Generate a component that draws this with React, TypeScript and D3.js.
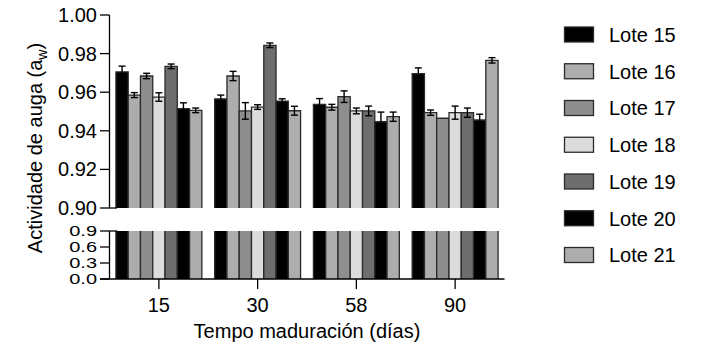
import React from "react";
import * as d3 from "d3";

const days = ["15", "30", "58", "90"];
const lotes = ["Lote 15", "Lote 16", "Lote 17", "Lote 18", "Lote 19", "Lote 20", "Lote 21"];
const fills = ["#000000", "#adadad", "#8e8e8e", "#dcdcdc", "#6e6e6e", "#000000", "#adadad"];

// mean aw per lote, in day order
const lote15 = [0.9705, 0.9565, 0.9537, 0.9696];
const lote16 = [0.9585, 0.9684, 0.9522, 0.9494];
const lote17 = [0.9684, 0.9503, 0.9577, 0.9465];
const lote18 = [0.9575, 0.9523, 0.9503, 0.9494];
const lote19 = [0.9734, 0.9843, 0.9503, 0.9494];
const lote20 = [0.9515, 0.9554, 0.9447, 0.9456];
const lote21 = [0.9506, 0.9504, 0.9473, 0.9765];

// error (±)
const err15 = [0.003, 0.002, 0.003, 0.003];
const err16 = [0.0013, 0.0024, 0.0015, 0.0014];
const err17 = [0.0014, 0.0043, 0.003, 0];
const err18 = [0.0022, 0.0012, 0.0015, 0.0034];
const err19 = [0.0012, 0.0012, 0.0025, 0.0024];
const err20 = [0.003, 0.0012, 0.005, 0.003];
const err21 = [0.0012, 0.0023, 0.0024, 0.0014];

const upperTicks = [0.9, 0.92, 0.94, 0.96, 0.98, 1.0];
const lowerTicks = [0.0, 0.3, 0.6, 0.9];

const values = [lote15, lote16, lote17, lote18, lote19, lote20, lote21];
const errors = [err15, err16, err17, err18, err19, err20, err21];

const W = 715;
const H = 347;
const axisX = 109.5;
const font = "Arial, 'Liberation Sans', sans-serif";
const edge = "#2b2b2b";

export default function App() {
  const x0 = d3.scaleBand<string>().domain(days).range([axisX, 504.5]).paddingInner(0.13).paddingOuter(0.065);
  const x1 = d3.scaleBand<string>().domain(lotes).range([0, x0.bandwidth()]);
  const yTop = d3.scaleLinear().domain([0.9, 1.0]).range([208, 15]);
  const yBot = d3.scaleLinear().domain([0, 0.9]).range([279, 231]);
  const legendY = d3.scalePoint<string>().domain(lotes).range([34.5, 255]);

  const bars: React.ReactNode[] = [];
  const errs: React.ReactNode[] = [];
  lotes.forEach((l, li) => {
    days.forEach((d, di) => {
      const v = values[li][di];
      const e = errors[li][di];
      const bx = (x0(d) as number) + (x1(l) as number);
      const bw = x1.bandwidth();
      const top = yTop(v);
      const b1 = yTop(0.9);
      const t2 = yBot(0.9);
      const b2 = yBot(0);
      // bars are broken at the axis gap: no border at the cut
      bars.push(
        <g key={`b${li}-${di}`}>
          <rect x={bx} y={top} width={bw} height={b1 - top} fill={fills[li]} />
          <rect x={bx} y={t2} width={bw} height={b2 - t2} fill={fills[li]} />
          <path
            d={`M${bx},${b1}V${top}H${bx + bw}V${b1}M${bx},${t2}V${b2}M${bx + bw},${t2}V${b2}`}
            fill="none"
            stroke={edge}
            strokeWidth={1.3}
          />
        </g>
      );
      if (e > 0) {
        const cx = bx + bw / 2;
        errs.push(
          <g key={`e${li}-${di}`} stroke="#000" strokeWidth={1.4}>
            <line x1={cx} x2={cx} y1={yTop(v - e)} y2={yTop(v + e)} />
            <line x1={cx - 3.5} x2={cx + 3.5} y1={yTop(v + e)} y2={yTop(v + e)} />
            <line x1={cx - 3.5} x2={cx + 3.5} y1={yTop(v - e)} y2={yTop(v - e)} />
          </g>
        );
      }
    });
  });

  return (
    <svg width={W} height={H} style={{ position: "absolute", left: 0, top: 0, background: "#fff" }} fontFamily={font}>
      {bars}
      {errs}
      <g stroke="#000" strokeWidth={1.3}>
        <line x1={axisX} x2={axisX} y1={yTop(1.0)} y2={yTop(0.9)} />
        {upperTicks.map(t => (
          <line key={t} x1={100} x2={t === 0.9 ? 117 : axisX} y1={yTop(t)} y2={yTop(t)} />
        ))}
        <line x1={axisX} x2={axisX} y1={yBot(0.9)} y2={yBot(0)} />
        {lowerTicks.map(t => (
          <line key={t} x1={100} x2={t === 0.9 ? 117 : axisX} y1={yBot(t)} y2={yBot(t)} />
        ))}
        <line x1={100} x2={504.5} y1={yBot(0)} y2={yBot(0)} />
        {days.map(d => {
          const cx = (x0(d) as number) + x0.bandwidth() / 2;
          return <line key={d} x1={cx} x2={cx} y1={yBot(0)} y2={yBot(0) + 10} />;
        })}
      </g>
      <g fontSize={20} fill="#000" textAnchor="end">
        {upperTicks.map(t => (
          <text key={t} x={97} y={yTop(t) + 7}>{t.toFixed(2)}</text>
        ))}
        {lowerTicks.map(t => (
          <text key={t} transform={`translate(97,${yBot(t) + 5.3}) scale(1,0.75)`}>{t.toFixed(1)}</text>
        ))}
      </g>
      <g fontSize={20} fill="#000" textAnchor="middle">
        {days.map(d => (
          <text key={d} x={(x0(d) as number) + x0.bandwidth() / 2} y={312}>{d}</text>
        ))}
        <text x={307} y={338}>Tempo maduración (días)</text>
        <text transform="translate(42,148) rotate(-90)">
          Actividade de auga (a<tspan fontSize={14} dy={5}>w</tspan><tspan dy={-5}>)</tspan>
        </text>
      </g>
      <g>
        {lotes.map((l, i) => (
          <g key={l} transform={`translate(0,${legendY(l)})`}>
            <rect x={564.5} y={-7.5} width={29} height={15} fill={fills[i]} stroke={edge} strokeWidth={1.3} />
            <text x={609} y={7.3} fontSize={20} fill="#000">{l}</text>
          </g>
        ))}
      </g>
    </svg>
  );
}
